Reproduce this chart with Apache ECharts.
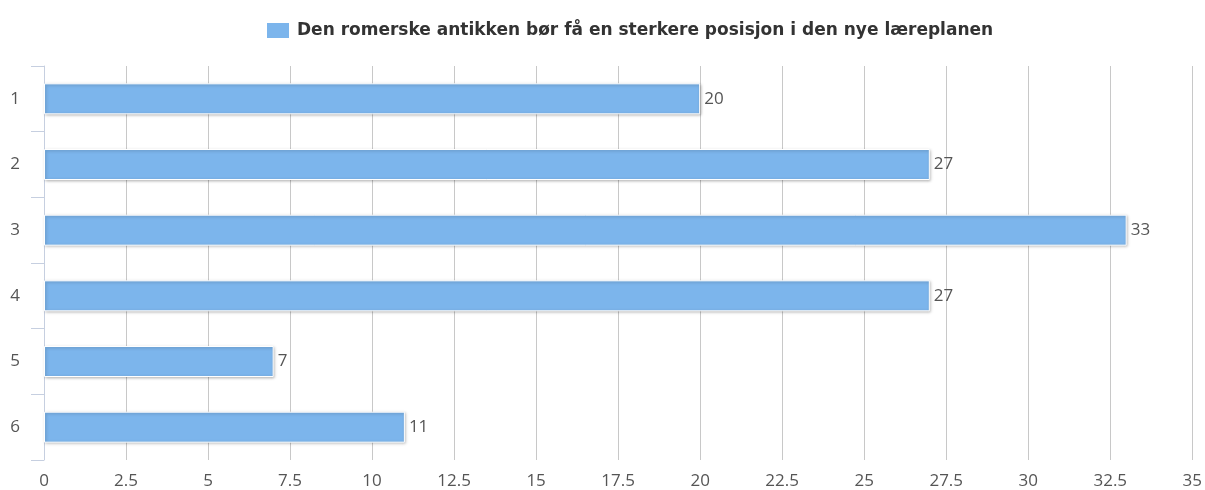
<!DOCTYPE html>
<html>
<head>
<meta charset="utf-8">
<script src="https://cdn.jsdelivr.net/npm/echarts@6/dist/echarts.min.js"></script>
<style>
  html, body { margin: 0; padding: 0; background: #fff; }
  #chart { width: 1205px; height: 490px; }
</style>
</head>
<body>
<div id="chart"></div>
<script>
var seriesName = "Den romerske antikken bør få en sterkere posisjon i den nye læreplanen";
var categories = ["1", "2", "3", "4", "5", "6"];
var values = [20, 27, 33, 27, 7, 11];

var labelFont = "'Open Sans', sans-serif";
var legendFont = "'DejaVu Sans', sans-serif";
var myChart = echarts.init(document.getElementById("chart"));
var option = {
  animation: false,
  textStyle: { fontFamily: labelFont },
  legend: {
    top: 16,
    left: 260,
    icon: "rect",
    itemWidth: 24,
    itemHeight: 17,
    itemGap: 8,
    textStyle: { color: "#333", fontSize: 17, fontWeight: "bold", fontFamily: legendFont, padding: [0, 0, 0, 2] },
    data: [seriesName]
  },
  grid: { left: 44, right: 12, top: 66, bottom: 30 },
  xAxis: {
    type: "value",
    min: 0,
    max: 35,
    interval: 2.5,
    axisLine: { show: false },
    axisTick: { show: false },
    axisLabel: { color: "#555", fontSize: 17, margin: 13, fontFamily: labelFont },
    splitLine: { lineStyle: { color: "#c8c8c8", width: 1 } }
  },
  yAxis: {
    type: "category",
    inverse: true,
    data: categories,
    axisLine: { lineStyle: { color: "#c6cfe0", width: 1 } },
    axisTick: { show: true, length: 13, lineStyle: { color: "#c6cfe0", width: 1 } },
    axisLabel: { color: "#555", fontSize: 17, margin: 24, fontFamily: labelFont }
  },
  series: [
    {
      name: seriesName,
      type: "bar",
      data: values,
      barWidth: 31,
      itemStyle: {
        color: "#7cb5ec",
        borderColor: "#fff",
        borderWidth: 1,
        shadowBlur: 3,
        shadowColor: "rgba(0,0,0,0.3)",
        shadowOffsetX: 1,
        shadowOffsetY: 1
      },
      label: {
        show: true,
        position: "right",
        distance: 4,
        color: "#555",
        fontSize: 17,
        fontFamily: labelFont
      }
    }
  ]
};
myChart.setOption(option);
</script>
</body>
</html>
